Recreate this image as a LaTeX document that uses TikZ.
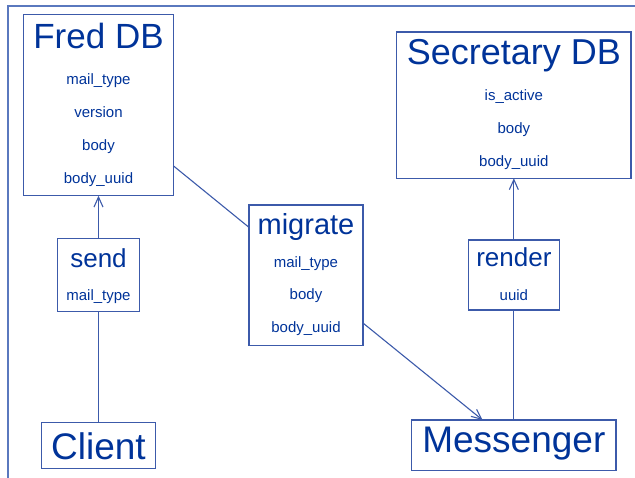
\documentclass[tikz,border=0pt]{standalone}
\usepackage{fontspec}
\setmainfont{Liberation Sans}
\usetikzlibrary{arrows.meta}
\definecolor{textblue}{RGB}{0,51,153}
\definecolor{lineblue}{RGB}{60,90,170}
\definecolor{frameblue}{RGB}{90,120,190}

\tikzset{
    box/.style={draw=lineblue, line width=1.2pt, inner sep=0pt, outer sep=0pt},
    bigtitle/.style={anchor=base, text=textblue, inner sep=0pt, font=\fontsize{36}{36}\selectfont},
    midtitle/.style={anchor=base, text=textblue, inner sep=0pt, font=\fontsize{26}{26}\selectfont},
    field/.style={anchor=base, text=textblue, inner sep=0pt, font=\fontsize{15}{15}\selectfont},
    link/.style={draw=lineblue, line width=1.1pt},
    flow/.style={link, -{Straight Barb[length=10pt,width=9pt]}}
}

\begin{document}
\begin{tikzpicture}[x=1pt, y=-1pt]
    \useasboundingbox (0,0) rectangle (635,478);

    % Cadre
    \draw[frameblue, line width=1.1pt] (8,478) -- (8,6) -- (635,6);

    % Bases de données
    \node[box, minimum width=149.6pt, minimum height=181pt] (fred) at (98.5,105.2) {};
    \node[bigtitle, font=\fontsize{35}{35}\selectfont] (fredT) at (98.5,49) {Fred DB};
    \node[field] (fred1) at (98.5,85) {mail\_type};
    \node[field] (fred2) at (98.5,118) {version};
    \node[field] (fred3) at (98.5,151) {body};
    \node[field] (fred4) at (98.5,184) {body\_uuid};

    \node[box, minimum width=234.3pt, minimum height=146.3pt] (secretary) at (513.85,105.15) {};
    \node[bigtitle] (secretaryT) at (513.85,65) {Secretary DB};
    \node[field] (secretary1) at (513.85,101) {is\_active};
    \node[field] (secretary2) at (513.85,134) {body};
    \node[field] (secretary3) at (513.85,167) {body\_uuid};

    % Opérations
    \node[box, minimum width=81.6pt, minimum height=73.4pt] (send) at (98.5,275) {};
    \node[midtitle] (sendT) at (98.5,268) {send};
    \node[field] (send1) at (98.5,301) {mail\_type};

    \node[box, minimum width=114pt, minimum height=140.3pt] (migrate) at (306,275.2) {};
    \node[midtitle, font=\fontsize{29}{29}\selectfont] (migrateT) at (306,235) {migrate};
    \node[field] (migrate1) at (306,268) {mail\_type};
    \node[field] (migrate2) at (306,300) {body};
    \node[field] (migrate3) at (306,333) {body\_uuid};

    \node[box, minimum width=91pt, minimum height=70pt] (render) at (513.85,275) {};
    \node[midtitle] (renderT) at (513.85,267) {render};
    \node[field] (render1) at (513.85,301) {uuid};

    % Acteurs
    \node[box, minimum width=113.6pt, minimum height=45.6pt] (client) at (98.5,445.5) {};
    \node[bigtitle, font=\fontsize{37}{37}\selectfont] (clientT) at (98.5,459) {Client};

    \node[box, minimum width=204.3pt, minimum height=50.7pt] (messenger) at (513.85,445.35) {};
    \node[bigtitle, font=\fontsize{37}{37}\selectfont] (messengerT) at (513.85,453) {Messenger};

    % Liens
    \draw[link] (client.north) -- (send.south);
    \draw[flow] (send.north) -- (fred.south);
    \draw[link] (fred.-39.4) -- (migrate.140.5);
    \draw[flow] (migrate.-40.2) -- (messenger.141.2);
    \draw[link] (messenger.north) -- (render.south);
    \draw[flow] (render.north) -- (secretary.south);
\end{tikzpicture}
\end{document}
